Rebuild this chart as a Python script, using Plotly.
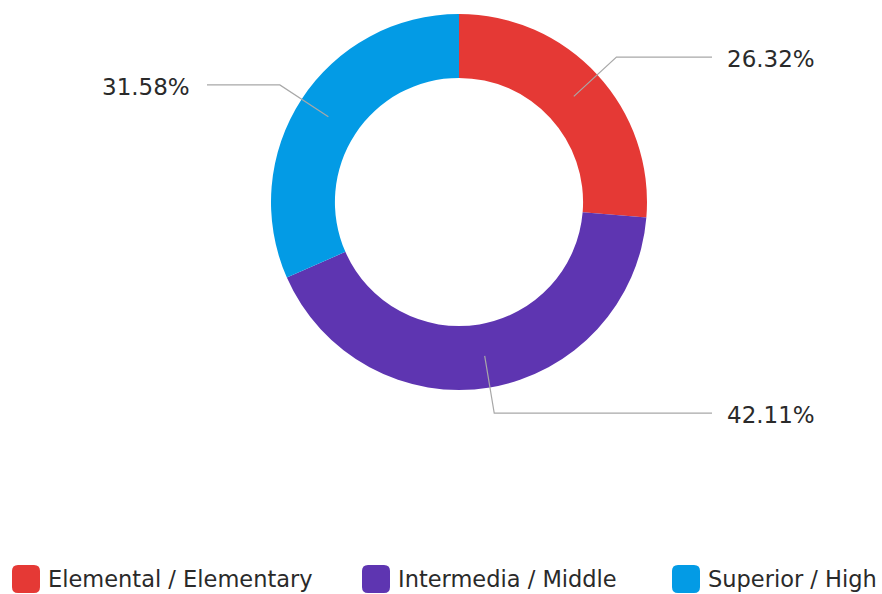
import math
import plotly.graph_objects as go

# Data
categories = ["Elemental / Elementary", "Intermedia / Middle", "Superior / High"]
counts = [5, 8, 6]
colors = ["#E53935", "#5E35B1", "#039BE5"]

W, H = 882, 594
CX, CY, R = 459, 202, 188          # donut centre and outer radius in px
HOLE = 0.66
FONT = "DejaVu Sans, Verdana, sans-serif"
TEXT_COLOR = "#2a2a2a"
LINE_COLOR = "#A8A8A8"


def px(x):
    return x / W


def py(y):
    return 1 - y / H


fig = go.Figure(
    go.Pie(
        labels=categories,
        values=counts,
        hole=HOLE,
        sort=False,
        direction="clockwise",
        rotation=0,
        marker=dict(colors=colors, line=dict(width=0)),
        textinfo="none",
        hoverinfo="label+percent",
        showlegend=False,
        domain=dict(x=[px(CX - R), px(CX + R)], y=[py(CY + R), py(CY - R)]),
    )
)

# Outside percentage labels with bent leader lines
total = sum(counts)
r_in = R * (1 + HOLE) / 2
r_elbow = R + 26
shapes = []
annotations = []
cum = 0
for cat, v in zip(categories, counts):
    mid = (cum + v / 2) / total * 2 * math.pi
    cum += v
    sx, sy = math.sin(mid), -math.cos(mid)
    x0, y0 = CX + r_in * sx, CY + r_in * sy
    x1, y1 = CX + r_elbow * sx, CY + r_elbow * sy
    right = sx >= 0
    x2 = 712 if right else 207
    shapes.append(dict(
        type="path", xref="paper", yref="paper",
        path=f"M {px(x0)} {py(y0)} L {px(x1)} {py(y1)} L {px(x2)} {py(y1)}",
        line=dict(color=LINE_COLOR, width=1.2),
    ))
    annotations.append(dict(
        xref="paper", yref="paper",
        x=px(x2 + 13 if right else x2 - 15), y=py(y1 + 2),
        xanchor="left" if right else "right", yanchor="middle",
        text=f"{v / total * 100:.2f}%", showarrow=False,
        font=dict(family=FONT, size=23, color=TEXT_COLOR),
    ))

# Legend drawn as rounded swatches with labels
legend_x = [12, 362, 672]
sw, ly, rad = 28, 565, 6
for cat, col, lx in zip(categories, colors, legend_x):
    x0, x1, y0, y1 = lx, lx + sw, ly, ly + sw
    path = (
        f"M {px(x0 + rad)} {py(y0)} L {px(x1 - rad)} {py(y0)} "
        f"Q {px(x1)} {py(y0)} {px(x1)} {py(y0 + rad)} L {px(x1)} {py(y1 - rad)} "
        f"Q {px(x1)} {py(y1)} {px(x1 - rad)} {py(y1)} L {px(x0 + rad)} {py(y1)} "
        f"Q {px(x0)} {py(y1)} {px(x0)} {py(y1 - rad)} L {px(x0)} {py(y0 + rad)} "
        f"Q {px(x0)} {py(y0)} {px(x0 + rad)} {py(y0)} Z"
    )
    shapes.append(dict(type="path", xref="paper", yref="paper", path=path,
                       fillcolor=col, line=dict(width=0)))
    annotations.append(dict(
        xref="paper", yref="paper", x=px(lx + sw + 6), y=py(ly + sw / 2),
        xanchor="left", yanchor="middle", text=cat, showarrow=False,
        font=dict(family=FONT, size=22.5, color=TEXT_COLOR),
    ))

fig.update_layout(
    width=W, height=H,
    margin=dict(l=0, r=0, t=0, b=0),
    paper_bgcolor="white", plot_bgcolor="white",
    shapes=shapes, annotations=annotations,
)

fig.write_html("out.html")
